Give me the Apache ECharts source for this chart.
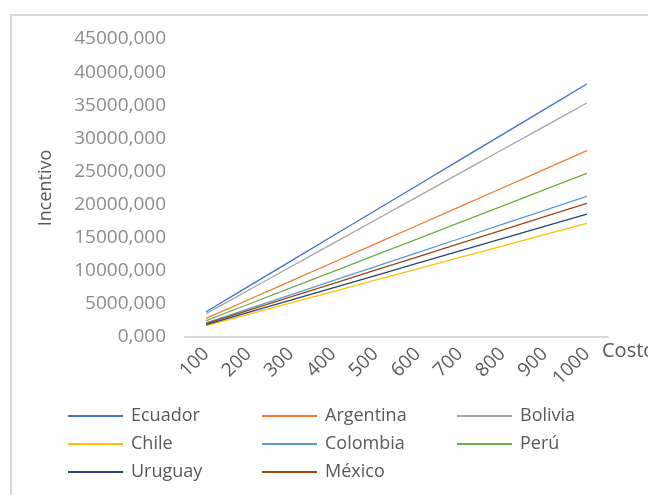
<!DOCTYPE html>
<html>
<head>
<meta charset="utf-8">
<script src="https://cdn.jsdelivr.net/npm/echarts@6/dist/echarts.min.js"></script>
<style>
html,body{margin:0;padding:0;background:#fff;}
#frame{position:absolute;left:10px;top:14px;width:660px;height:500px;border-left:2px solid #d9d9d9;border-top:2px solid #d9d9d9;box-sizing:border-box;}
#chart{position:absolute;left:0;top:0;width:648px;height:495px;}
</style>
</head>
<body>
<div id="frame"></div>
<div id="chart"></div>
<script>
const categories = ['100','200','300','400','500','600','700','800','900','1000'];
const ecuador   = [3820, 7640, 11460, 15280, 19100, 22920, 26740, 30560, 34380, 38200];
const argentina = [2813, 5626, 8439, 11252, 14065, 16878, 19691, 22504, 25317, 28130];
const bolivia   = [3534, 7068, 10602, 14136, 17670, 21204, 24738, 28272, 31806, 35340];
const chile     = [1717, 3434, 5151, 6868, 8585, 10302, 12019, 13736, 15453, 17170];
const colombia  = [2125, 4250, 6375, 8500, 10625, 12750, 14875, 17000, 19125, 21250];
const peru      = [2472, 4944, 7416, 9888, 12360, 14832, 17304, 19776, 22248, 24720];
const uruguay   = [1857, 3714, 5571, 7428, 9285, 11142, 12999, 14856, 16713, 18570];
const mexico    = [2019, 4038, 6057, 8076, 10095, 12114, 14133, 16152, 18171, 20190];

const seriesDefs = [
  ['Ecuador', ecuador, '#4472C4'],
  ['Argentina', argentina, '#ED7D31'],
  ['Bolivia', bolivia, '#A5A5A5'],
  ['Chile', chile, '#FFC000'],
  ['Colombia', colombia, '#5B9BD5'],
  ['Perú', peru, '#70AD47'],
  ['Uruguay', uruguay, '#264478'],
  ['México', mexico, '#9E480E']
];

const font = '"Open Sans", "Liberation Sans", sans-serif';
const legendBase = {
  orient: 'vertical',
  top: 407,
  padding: 0,
  itemWidth: 55,
  itemHeight: 2,
  itemGap: 10,
  icon: 'rect',
  textStyle: {fontFamily: font, fontSize: 18, color: '#595959', padding: [0,0,0,3]}
};

const chart = echarts.init(document.getElementById('chart'), null, {renderer: 'canvas'});
chart.setOption({
  animation: false,
  backgroundColor: 'transparent',
  grid: {left: 185, right: 40, top: 39, bottom: 158, containLabel: false, outerBoundsMode: 'none'},
  legend: [
    Object.assign({}, legendBase, {left: 68, data: ['Ecuador', 'Chile', 'Uruguay']}),
    Object.assign({}, legendBase, {left: 262, data: ['Argentina', 'Colombia', 'México']}),
    Object.assign({}, legendBase, {left: 457, data: ['Bolivia', 'Perú']})
  ],
  xAxis: {
    type: 'category',
    data: categories,
    boundaryGap: true,
    name: 'Costo',
    nameLocation: 'end',
    nameGap: -6,
    nameTextStyle: {fontFamily: font, fontSize: 20, color: '#595959', verticalAlign: 'top', align: 'left', padding: [4,0,0,0]},
    axisLine: {lineStyle: {color: '#d9d9d9', width: 2}},
    axisTick: {show: false},
    axisLabel: {rotate: 45, margin: 14, fontFamily: font, fontSize: 19, color: '#595959', interval: 0}
  },
  yAxis: {
    type: 'value',
    min: 0,
    max: 45000,
    interval: 5000,
    name: 'Incentivo',
    nameLocation: 'middle',
    nameGap: 130,
    nameTextStyle: {fontFamily: font, fontSize: 18, color: '#595959'},
    axisLine: {show: false},
    axisTick: {show: false},
    splitLine: {show: false},
    axisLabel: {margin: 19, fontFamily: font, fontSize: 19, color: '#8c8c8c', formatter: v => v + ',000'}
  },
  series: seriesDefs.map(([name, data, color]) => ({
    name: name,
    type: 'line',
    data: data,
    symbol: 'none',
    showSymbol: false,
    lineStyle: {color: color, width: 1.3},
    itemStyle: {color: color}
  }))
});
</script>
</body>
</html>
